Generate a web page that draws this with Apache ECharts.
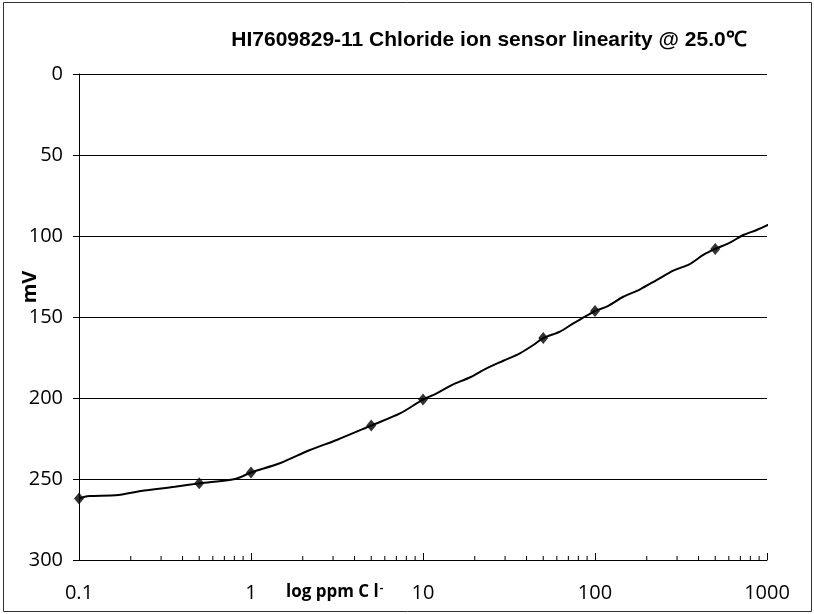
<!DOCTYPE html>
<html>
<head>
<meta charset="utf-8">
<script src="https://cdn.jsdelivr.net/npm/echarts@6/dist/echarts.min.js"></script>
<style>
  html, body { margin: 0; padding: 0; background: #fff; }
  #chart { width: 814px; height: 614px; }
</style>
</head>
<body>
<div id="chart"></div>
<script>
// Calibration points (ppm Cl-) and measured potential (mV)
const markerPpm = [0.1, 0.5, 1, 5, 10, 50, 100, 500];
const markerMv = [262, 252.7, 246, 217, 201, 163, 146.3, 108];

// Continuous response trace
const curvePpm = [0.1, 0.108, 0.116, 0.169, 0.229, 0.361, 0.5, 0.807, 1, 1.47, 2.2, 3.15, 5, 7.35, 10, 12, 14.7, 18.8, 23.4, 29.3, 36.6, 43.8, 50, 62.6, 74.8, 87.5, 100, 117, 146, 183, 228, 285, 356, 426, 500, 609, 728, 871, 1079];
const curveMv = [262, 260.9, 260.5, 259.9, 257.4, 254.8, 252.7, 250, 246, 240.3, 232.1, 225.9, 217, 209.5, 201, 197.1, 192, 187.2, 181.7, 177, 172.4, 167.3, 163, 159, 153.9, 149.8, 146.3, 143.6, 137.5, 132.9, 127.2, 121.4, 117.3, 111.7, 108, 104.1, 99.4, 96.3, 91.8];

// Axis labels and log minor tick positions
const xTickLabels = ['0.1', '1', '10', '100', '1000'];
const minorTickPpm = [0.2, 0.3, 0.4, 0.5, 0.6, 0.7, 0.8, 0.9,
  2, 3, 4, 5, 6, 7, 8, 9,
  20, 30, 40, 50, 60, 70, 80, 90,
  200, 300, 400, 500, 600, 700, 800, 900];

const chart = echarts.init(document.getElementById('chart'));
const tickFont = '"Open Sans", sans-serif';

chart.setOption({
  animation: false,
  backgroundColor: '#fff',
  title: {
    text: 'HI7609829-11 Chloride ion sensor linearity @ 25.0\u2103',
    left: 484, top: 25, textAlign: 'center',
    textStyle: { fontFamily: '"Liberation Sans", Arial, sans-serif', fontWeight: 'bold', fontSize: 21, color: '#000' }
  },
  graphic: [
    {
      type: 'rect', silent: true,
      shape: { x: 3.5, y: 2.5, width: 808, height: 609 },
      style: { fill: 'none', stroke: '#333', lineWidth: 1 }
    },
    {
      // y-axis title, set above the axis midpoint
      type: 'text', silent: true,
      x: 30, y: 287, rotation: Math.PI / 2,
      style: {
        text: 'mV', align: 'center', verticalAlign: 'middle',
        font: 'bold 20px "Open Sans", sans-serif', fill: '#000'
      }
    },
    {
      type: 'text', silent: true,
      left: 286, top: 582,
      style: {
        text: '{a|log ppm C l}{s|-}',
        rich: {
          a: { fontFamily: tickFont, fontWeight: 'bold', fontSize: 17, fill: '#000' },
          s: { fontFamily: tickFont, fontWeight: 'bold', fontSize: 11, fill: '#000', verticalAlign: 'top', padding: [0, 0, 9, 1] }
        }
      }
    }
  ],
  grid: { left: 79, right: 47, top: 74, bottom: 54, containLabel: false, outerBoundsMode: 'none' },
  xAxis: {
    type: 'log', logBase: 10, min: 0.1, max: 1000,
    axisLine: { onZero: false, lineStyle: { color: '#000', width: 1 } },
    axisTick: { inside: true, length: 7, lineStyle: { color: '#000' } },
    splitLine: { show: false },
    axisLabel: {
      margin: 23, fontFamily: tickFont, fontSize: 20, color: '#000',
      formatter: function (v) {
        const i = Math.round(Math.log10(v)) + 1;
        return xTickLabels[i] !== undefined ? xTickLabels[i] : '';
      }
    }
  },
  yAxis: {
    type: 'value', inverse: true, min: 0, max: 300, interval: 50,
    axisLine: { show: true, onZero: false, lineStyle: { color: '#000', width: 1 } },
    axisTick: { show: true, inside: false, length: 6, lineStyle: { color: '#000' } },
    splitLine: { show: true, lineStyle: { color: '#000', width: 1 } },
    axisLabel: { margin: 16, fontFamily: tickFont, fontSize: 20, color: '#000' }
  },
  series: [
    {
      type: 'line', name: 'trace',
      data: curvePpm.map((x, i) => [x, curveMv[i]]),
      showSymbol: false, smooth: 0.3, clip: false,
      lineStyle: { color: '#000', width: 2 },
      silent: true, z: 3
    },
    {
      type: 'scatter', name: 'points',
      data: markerPpm.map((x, i) => [x, markerMv[i]]),
      symbol: 'diamond', symbolSize: [10, 12],
      itemStyle: { color: '#000' },
      silent: true, z: 4
    },
    {
      type: 'custom', name: 'minorTicks',
      data: minorTickPpm.map(x => [x, 300]),
      clip: false, silent: true, z: 2,
      renderItem: function (params, api) {
        const p = api.coord([api.value(0), api.value(1)]);
        return {
          type: 'line',
          shape: { x1: p[0], y1: p[1], x2: p[0], y2: p[1] - 4 },
          style: { stroke: '#000', lineWidth: 1 }
        };
      }
    }
  ]
});
</script>
</body>
</html>
